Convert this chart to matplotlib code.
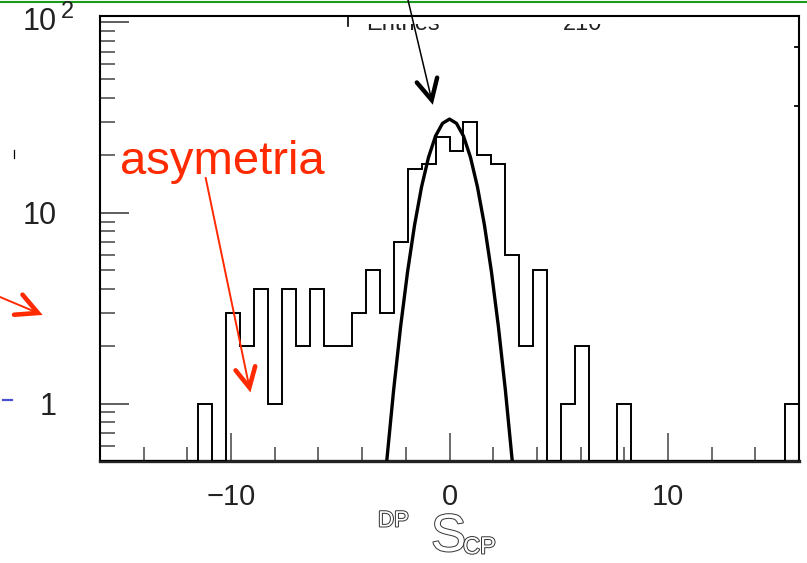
import numpy as np
import matplotlib
matplotlib.use("Agg")
import matplotlib.pyplot as plt
import matplotlib.patheffects as pe
from matplotlib.lines import Line2D
from matplotlib.patches import Rectangle
from matplotlib.ticker import MultipleLocator, LogLocator, NullFormatter, FixedLocator

plt.rcParams['font.family'] = ['Liberation Sans', 'DejaVu Sans']

# histogram: 50 bins between -16 and 16 (210 entries)
x_min, x_max, n_bins = -16.0, 16.0, 50
counts = [0, 0, 0, 0, 0, 0, 0, 1, 0, 3,
          2, 4, 1, 4, 2, 4, 2, 2, 3, 5,
          3, 7, 17, 18, 25, 21, 30, 20, 18, 6,
          2, 5, 0, 1, 2, 0, 0, 1, 0, 0,
          0, 0, 0, 0, 0, 0, 0, 0, 0, 1]
entries_text = "210"

# gaussian fit parameters
gauss_amp, gauss_mean, gauss_sigma = 31.0, 0.0, 1.0

x_ticks = [-10, 0, 10]
x_tick_labels = ["\u221210", "0", "10"]
y_ticks = [1, 10, 100]
y_tick_labels = ["1", "10", ""]

W, H = 807, 563
y_lo, y_hi = 0.5, 108.0


def px(x, y):
    # pixel position (from top-left) -> figure fraction
    return x / W, 1 - y / H


def fig_line(fig, pts, **kw):
    xs, ys = zip(*[px(*p) for p in pts])
    fig.add_artist(Line2D(xs, ys, transform=fig.transFigure, **kw))


def arrow(fig, tail, tip, color, shaft_lw, head_lw, head_len=23, spread=27):
    fig_line(fig, [tail, tip], color=color, lw=shaft_lw, zorder=5)
    u = np.array(tail, float) - np.array(tip, float)
    u /= np.hypot(*u)
    arms = []
    for s in (spread, -spread):
        a = np.radians(s)
        r = np.array([u[0] * np.cos(a) - u[1] * np.sin(a),
                      u[0] * np.sin(a) + u[1] * np.cos(a)])
        arms.append(tuple(np.array(tip) + head_len * r))
    fig_line(fig, [arms[0], tip, arms[1]], color=color, lw=head_lw, zorder=5,
             solid_joinstyle='miter', solid_capstyle='round')


fig = plt.figure(figsize=(W / 100, H / 100), dpi=100)
ax = fig.add_axes([100 / W, 1 - 461 / H, 699 / W, (461 - 15.7) / H])

edges = np.linspace(x_min, x_max, n_bins + 1)
vals = np.where(np.array(counts) > 0, counts, y_lo)
ax.stairs(vals, edges, baseline=y_lo, color='black', lw=1.4, zorder=3)

xf = np.linspace(x_min, x_max, 101)
yf = gauss_amp * np.exp(-0.5 * ((xf - gauss_mean) / gauss_sigma) ** 2)
ax.plot(xf, yf, color='black', lw=2.4, zorder=4)

ax.set_yscale('log')
ax.set_xlim(x_min, x_max)
ax.set_ylim(y_lo, y_hi)

ax.xaxis.set_major_locator(FixedLocator(x_ticks))
ax.set_xticklabels(x_tick_labels)
ax.xaxis.set_minor_locator(MultipleLocator(2))
ax.yaxis.set_major_locator(FixedLocator(y_ticks))
ax.set_yticklabels(y_tick_labels)
ax.yaxis.set_minor_locator(LogLocator(base=10, subs=np.arange(2, 10)))
ax.yaxis.set_minor_formatter(NullFormatter())

ax.tick_params(axis='x', which='major', direction='in', length=20, width=1.1,
               color='#444444', pad=15.5, labelsize=21, labelcolor='#222222')
ax.tick_params(axis='x', which='minor', direction='in', length=10, width=1.1,
               color='#444444')
ax.tick_params(axis='y', which='major', direction='in', length=21, width=1.1,
               color='#333333', pad=31, labelsize=22, labelcolor='#222222')
ax.tick_params(axis='y', which='minor', direction='in', length=11, width=1.1,
               color='#444444')

for side in ('left', 'top', 'right'):
    ax.spines[side].set_linewidth(1.5)
ax.spines['bottom'].set_linewidth(2.4)
ax.spines['bottom'].set_color('#222222')

# odd short ticks on the right edge
for f in (0.930, 0.797):
    ax.plot([1, 0.994], [f, f], transform=ax.transAxes, color='black',
            lw=1.3, clip_on=False)

# 10^2 label, ROOT style
fig.text(*px(57, 22.5), "10", ha='right', va='center', fontsize=22, color='#222222')
fig.text(*px(61, 12), "2", ha='left', va='center', fontsize=17, color='#222222')

# axis title  DP S CP (hollow letters)
hollow = [pe.withStroke(linewidth=1.4, foreground='#333333')]
narrow = ['Liberation Sans Narrow', 'Liberation Sans', 'DejaVu Sans']
fig.text(*px(378, 521), "DP", ha='left', va='center', fontsize=16,
         family=narrow, color='white', path_effects=hollow)
fig.text(*px(431, 537), "S", ha='left', va='center', fontsize=38,
         family=narrow, color='white', path_effects=hollow)
fig.text(*px(463, 547.5), "CP", ha='left', va='center', fontsize=17,
         family=narrow, color='white', path_effects=hollow)

# stats box mostly hidden above the frame: a white band covers the glyph tops
for x, s, ha in ((366, "Entries", 'left'), (602, entries_text, 'right')):
    fig.text(*px(x, 30), s, ha=ha, va='baseline', fontsize=17, color='#222222',
             zorder=1)
x0, y0 = px(340, 24)
x1, y1 = px(620, 5)
fig.add_artist(Rectangle((x0, y0), x1 - x0, y1 - y0, transform=fig.transFigure,
                         facecolor='white', edgecolor='none', zorder=2))
fig_line(fig, [(340, 15.7), (620, 15.7)], color='black', lw=1.5, zorder=3)
fig_line(fig, [(348, 15.7), (348, 26)], color='black', lw=1.2, zorder=3)

# annotation overlays
fig_line(fig, [(0, 2.2), (W, 2.2)], color='#1a9a1a', lw=1.5, zorder=3)
arrow(fig, (408, 0), (431.7, 100), 'black', 1.1, 3.2)
fig.text(*px(120, 173.5), "asymetria", ha='left', va='baseline',
         fontsize=34, color='#ff2a00')
arrow(fig, (205.7, 178), (249.4, 387.5), '#ff2a00', 1.4, 3.3, head_len=22)
arrow(fig, (0, 297), (38, 313), '#ff2a00', 1.4, 3.3, head_len=24)
fig_line(fig, [(3, 400), (12, 400)], color='#4a50d0', lw=1.6)
fig_line(fig, [(14, 150), (14, 158)], color='black', lw=0.9)

fig.savefig("out.png", dpi=100)
